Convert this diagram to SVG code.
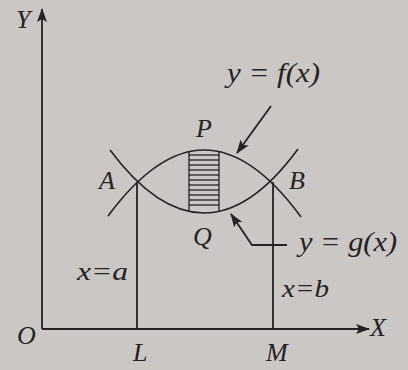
<svg xmlns="http://www.w3.org/2000/svg" width="408" height="370" viewBox="0 0 408 370">
<defs>
<style>
.ln{stroke:#262222;stroke-width:1.8;fill:none}
.cv{stroke:#262222;stroke-width:1.6;fill:none}
.h{stroke:#262222;stroke-width:1.3}
.t{font-family:"Liberation Serif","DejaVu Serif",serif;font-style:italic;font-size:26px;fill:#262222}
.big{font-size:28px}
</style>
<marker id="ah" markerWidth="14" markerHeight="10" refX="13" refY="5" orient="auto" markerUnits="userSpaceOnUse">
<path d="M0,0 L14,5 L0,10 L3,5 Z" fill="#262222"/>
</marker>
</defs>
<rect width="408" height="370" fill="#cac7c4"/>
<g id="axes">
<line class="ln" x1="42" y1="329" x2="42" y2="9" marker-end="url(#ah)"/>
<line class="ln" x1="42" y1="329" x2="369" y2="329" marker-end="url(#ah)"/>
<text class="t" x="16" y="28">Y</text>
<text class="t" x="370" y="336">X</text>
<text class="t" x="17" y="344">O</text>
</g>
<g id="curve-f">
<path class="cv" d="M108,216 Q157,150 204,150 Q252,150 301,217"/>
</g>
<g id="curve-g">
<path class="cv" d="M110,150 Q157,213 204,213 Q251,213 298,149"/>
</g>
<g id="strip">
<line class="h" x1="189" y1="151" x2="189" y2="212"/>
<line class="h" x1="219" y1="151" x2="219" y2="212"/>
<g class="h">
<line x1="189" y1="155" x2="219" y2="155"/>
<line x1="189" y1="160" x2="219" y2="160"/>
<line x1="189" y1="165" x2="219" y2="165"/>
<line x1="189" y1="170" x2="219" y2="170"/>
<line x1="189" y1="175" x2="219" y2="175"/>
<line x1="189" y1="180" x2="219" y2="180"/>
<line x1="189" y1="185" x2="219" y2="185"/>
<line x1="189" y1="190" x2="219" y2="190"/>
<line x1="189" y1="195" x2="219" y2="195"/>
<line x1="189" y1="200" x2="219" y2="200"/>
<line x1="189" y1="205" x2="219" y2="205"/>
</g>
<text class="t" x="196" y="137">P</text>
<text class="t" x="193" y="245">Q</text>
</g>
<g id="ordinates">
<line class="ln" x1="137" y1="182" x2="137" y2="329"/>
<line class="ln" x1="273" y1="182" x2="273" y2="329"/>
<text class="t" x="99" y="189">A</text>
<text class="t" x="289" y="189">B</text>
<text class="t" x="77" y="280" textLength="51" lengthAdjust="spacingAndGlyphs">x=a</text>
<text class="t" x="282" y="297" textLength="47" lengthAdjust="spacingAndGlyphs">x=b</text>
<text class="t" x="133" y="361">L</text>
<text class="t" x="266" y="361">M</text>
</g>
<g id="connectors">
<line class="ln" x1="271" y1="106" x2="237" y2="153" marker-end="url(#ah)"/>
<polyline class="ln" points="287,245 252,245 231,214" marker-end="url(#ah)"/>
</g>
<g id="labels">
<text class="t big" x="227" y="82" textLength="93" lengthAdjust="spacingAndGlyphs">y = f(x)</text>
<text class="t big" x="299" y="251" textLength="98" lengthAdjust="spacingAndGlyphs">y = g(x)</text>
</g>
</svg>
